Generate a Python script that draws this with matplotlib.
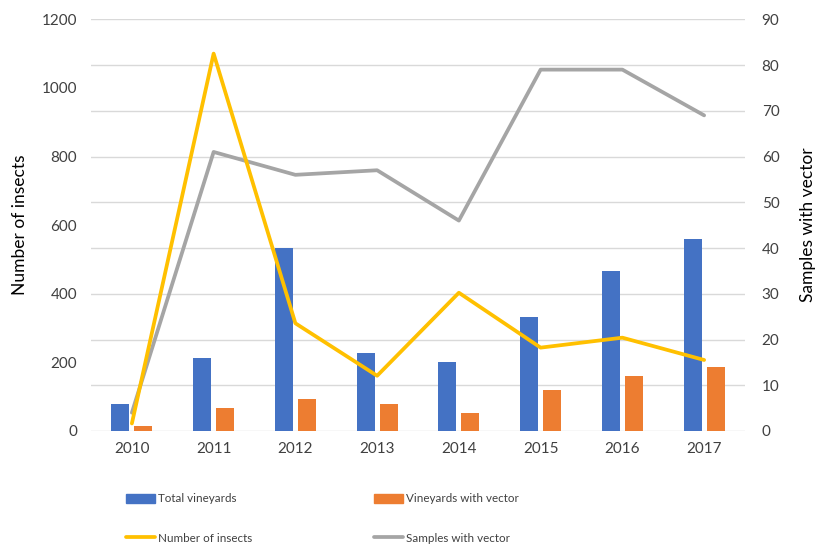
import matplotlib
matplotlib.use("Agg")
import matplotlib.pyplot as plt
import numpy as np
from matplotlib.patches import Patch
from matplotlib.lines import Line2D

years = ["2010", "2011", "2012", "2013", "2014", "2015", "2016", "2017"]
total_vineyards = [6, 16, 40, 17, 15, 25, 35, 42]
vineyards_with_vector = [1, 5, 7, 6, 4, 9, 12, 14]
number_of_insects = [22, 1100, 314, 161, 403, 243, 272, 207]
samples_with_vector = [4, 61, 56, 57, 46, 79, 79, 69]

left_ticks = [0, 200, 400, 600, 800, 1000, 1200]
right_ticks = [0, 10, 20, 30, 40, 50, 60, 70, 80, 90]

BLUE = "#4472C4"
ORANGE = "#ED7D31"
YELLOW = "#FFC000"
GRAY = "#A5A5A5"
GRID = "#D9D9D9"
TEXT = "#404040"

plt.rcParams["font.family"] = ["Lato", "DejaVu Sans"]

fig = plt.figure(figsize=(8.15, 5.45), dpi=100)
ax1 = fig.add_axes([91/815, 1-431/545, (745-91)/815, (431-19.3)/545])
ax2 = ax1.twinx()

x = np.arange(len(years))
bw = 0.22
off = 0.14
ax1.bar(x - off, total_vineyards, bw, color=BLUE, zorder=2)
ax1.bar(x + off, vineyards_with_vector, bw, color=ORANGE, zorder=2)
ax1.plot(x, samples_with_vector, color=GRAY, lw=2.7, solid_capstyle="round",
         solid_joinstyle="round", zorder=3)
ax2.plot(x, number_of_insects, color=YELLOW, lw=2.7, solid_capstyle="round",
         solid_joinstyle="round", zorder=3)

ax1.set_xlim(-0.5, len(years) - 0.5)
ax1.set_ylim(0, 90)
ax2.set_ylim(0, 1200)
ax1.set_yticks(right_ticks)
ax2.set_yticks(left_ticks)
ax1.set_xticks(x)
ax1.set_xticklabels(years)

ax1.yaxis.tick_right()
ax1.yaxis.set_label_position("right")
ax2.yaxis.tick_left()
ax2.yaxis.set_label_position("left")

for a in (ax1, ax2):
    for s in a.spines.values():
        s.set_visible(False)
    a.tick_params(length=0, labelsize=11, labelcolor=TEXT)
ax1.tick_params(axis="x", pad=8)
ax1.tick_params(axis="y", pad=12)
ax2.tick_params(axis="y", pad=10)

ax1.grid(axis="y", color=GRID, lw=1, zorder=0)
ax1.set_axisbelow(True)
ax2.patch.set_visible(False)

ax2.set_ylabel("Number of insects", fontsize=12.5, color="black", labelpad=10)
ax1.set_ylabel("Samples with vector", fontsize=12.5, color="black", labelpad=14.5,
               rotation=90)

entries = [
    (Patch(color=BLUE), "Total vineyards", 126/815, 1-499/545),
    (Patch(color=ORANGE), "Vineyards with vector", 374/815, 1-499/545),
    (Line2D([], [], color=YELLOW, lw=2.7, solid_capstyle="round"), "Number of insects", 126/815, 1-538/545),
    (Line2D([], [], color=GRAY, lw=2.7, solid_capstyle="round"), "Samples with vector", 374/815, 1-538/545),
]
for h, lab, lx, ly in entries:
    lg = fig.legend([h], [lab], loc="center left", bbox_to_anchor=(lx, ly),
                    frameon=False, fontsize=8.4, handlelength=2.5,
                    handletextpad=0.25, borderpad=0, borderaxespad=0)
    for t in lg.get_texts():
        t.set_color(TEXT)

fig.savefig("out.png", dpi=100)
